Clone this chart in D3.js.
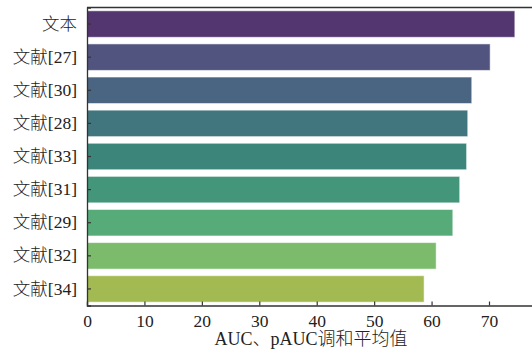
<!DOCTYPE html>
<html>
<head>
<meta charset="utf-8">
<script src="https://cdn.jsdelivr.net/npm/d3@7/dist/d3.min.js"></script>
<style>
  html, body { margin: 0; padding: 0; background: #fff; }
  svg { display: block; }
  text { font-family: "Liberation Serif", "Noto Sans CJK SC", serif; fill: #222; }
</style>
</head>
<body>
<svg id="chart" width="532" height="353"></svg>
<script>
// Methods compared, top to bottom
const methods = ["文本", "文献[27]", "文献[30]", "文献[28]", "文献[33]", "文献[31]", "文献[29]", "文献[32]", "文献[34]"];
// Harmonic mean of AUC and pAUC for each method
const scores = [74.5, 70.2, 67.0, 66.3, 66.1, 64.9, 63.7, 60.8, 58.7];
// Bar fills (viridis, desaturated)
const fills = ["#53366f", "#51547e", "#4a6581", "#41767e", "#3b857b", "#43967a", "#56ab78", "#7bbb6b", "#a3ba52"];
const xTicks = [0, 10, 20, 30, 40, 50, 60, 70];
const xLabel = "AUC、pAUC调和平均值";

const svg = d3.select("#chart");
const plotLeft = 87, plotTop = 7.5, plotBottom = 305.5;
const xMax = 78.2;
const unit = (488.7 - 86.7) / 70;

const x = d3.scaleLinear().domain([0, xMax]).range([plotLeft, plotLeft + xMax * unit]);
const y = d3.scaleBand().domain(methods).range([plotTop, plotBottom]).paddingInner(0.2).paddingOuter(0.1);

const rows = methods.map((m, i) => ({ m, v: scores[i], c: fills[i] }));

svg.append("g").selectAll("rect").data(rows).join("rect")
  .attr("x", x(0))
  .attr("y", d => y(d.m))
  .attr("width", d => x(d.v) - x(0))
  .attr("height", y.bandwidth())
  .attr("fill", d => d.c)
  .attr("stroke", "rgba(255,255,255,0.55)")
  .attr("stroke-width", 1);

// Frame
svg.append("line").attr("x1", plotLeft).attr("x2", 540).attr("y1", plotTop).attr("y2", plotTop)
  .attr("stroke", "#333").attr("stroke-width", 1.3);

// Bottom axis, ticks pointing into the plot
const xAxis = svg.append("g").attr("transform", `translate(0,${plotBottom})`)
  .call(d3.axisBottom(x).tickValues(xTicks).tickSize(-4).tickPadding(9).tickFormat(d3.format("d")));
xAxis.select(".domain").attr("stroke", "#333").attr("stroke-width", 1.3);
xAxis.selectAll(".tick line").attr("stroke", "#333").attr("stroke-width", 1.2);
xAxis.selectAll(".tick text").attr("font-size", 17.5).attr("fill", "#222")
  .attr("font-family", "Liberation Serif, serif");

// Left axis, ticks pointing into the plot
const yAxis = svg.append("g").attr("transform", `translate(${plotLeft},0)`)
  .call(d3.axisLeft(y).tickSize(-4).tickPadding(10));
yAxis.select(".domain").attr("stroke", "#333").attr("stroke-width", 1.3);
yAxis.selectAll(".tick line").attr("stroke", "#333").attr("stroke-width", 1.2);
yAxis.selectAll(".tick text").attr("font-size", 17.5).attr("fill", "#222")
  .attr("font-weight", 300)
  .attr("font-family", "Liberation Serif, Noto Sans CJK SC, serif");

svg.append("text")
  .attr("x", 311).attr("y", 345)
  .attr("text-anchor", "middle")
  .attr("font-size", 18)
  .attr("font-weight", 300)
  .text(xLabel);
</script>
</body>
</html>
